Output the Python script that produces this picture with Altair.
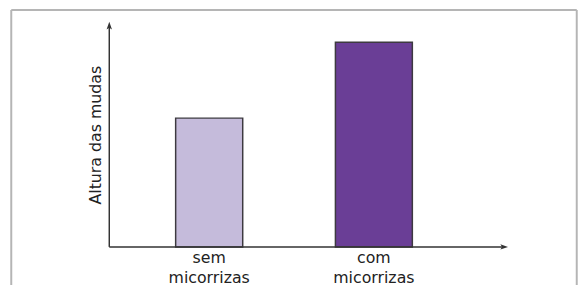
import altair as alt
import pandas as pd

categories = ["sem micorrizas", "com micorrizas"]
labels = ["sem\nmicorrizas", "com\nmicorrizas"]
values = [6.29, 10.0]
fills = ["#c5bbdb", "#6a3e96"]

df = pd.DataFrame({"cat": categories, "label": labels, "value": values})
one = alt.Data(values=[{"k": 0}])

FONT = "DejaVu Sans"
AX = "#333333"
FRAME = "#b5b5b5"

xs = alt.X("cat:N", sort=categories,
           scale=alt.Scale(type="point", domain=categories, range=[204, 371], padding=0),
           axis=None)
ys = alt.Y("value:Q", scale=alt.Scale(domain=[0, 10], range=[240.3, 32.7]), axis=None)

bars = alt.Chart(df).mark_bar(stroke="#3d3a40", strokeWidth=1.5).encode(
    x=xs,
    y=ys,
    color=alt.Color("cat:N", scale=alt.Scale(domain=categories, range=fills), legend=None),
    size=alt.condition(alt.datum.cat == "com micorrizas", alt.value(78), alt.value(68)),
)

text = alt.Chart(df).mark_text(lineBreak="\n", font=FONT, fontSize=16, color="#222222",
                               baseline="middle", lineHeight=20).encode(
    x=xs,
    y=alt.value(252),
    text="label:N",
)

frame_top = alt.Chart(one).mark_rule(color=FRAME, strokeWidth=2).encode(
    x=alt.value(3.3), x2=alt.value(576.7), y=alt.value(0))
frame_left = alt.Chart(one).mark_rule(color=FRAME, strokeWidth=2).encode(
    x=alt.value(3.3), y=alt.value(0), y2=alt.value(279))
frame_right = alt.Chart(one).mark_rule(color=FRAME, strokeWidth=2).encode(
    x=alt.value(576.7), y=alt.value(0), y2=alt.value(279))

yaxis = alt.Chart(one).mark_rule(color=AX, strokeWidth=1.5).encode(
    x=alt.value(102.7), y=alt.value(16), y2=alt.value(240.3))
xaxis = alt.Chart(one).mark_rule(color=AX, strokeWidth=1.5).encode(
    x=alt.value(102.7), x2=alt.value(502), y=alt.value(240.3))

dart_up = "M0,-1 L-0.55,0.55 L0,0.2 L0.55,0.55 Z"
dart_right = "M1,0 L-0.55,-0.55 L-0.2,0 L-0.55,0.55 Z"
arrow_up = alt.Chart(one).mark_point(shape=dart_up, filled=True, color=AX, opacity=1, size=100).encode(
    x=alt.value(102.7), y=alt.value(17))
arrow_right = alt.Chart(one).mark_point(shape=dart_right, filled=True, color=AX, opacity=1, size=100).encode(
    x=alt.value(502), y=alt.value(240.3))

ytitle = alt.Chart(one).mark_text(text="Altura das mudas", angle=270, font=FONT, fontSize=16,
                                  color="#222222", baseline="middle", align="center").encode(
    x=alt.value(89), y=alt.value(127))

chart = alt.layer(
    frame_top, frame_left, frame_right, bars, yaxis, xaxis, arrow_up, arrow_right, text, ytitle
).properties(
    width=580, height=279, autosize=alt.AutoSizeParams(type="none"), padding=0
).configure_view(stroke=None)

chart.save("out.html", embed_options={"renderer": "svg", "actions": False})
